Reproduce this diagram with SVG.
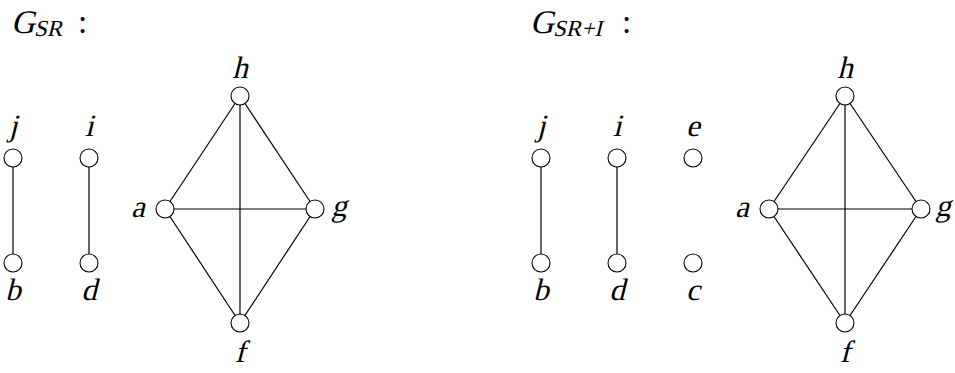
<svg xmlns="http://www.w3.org/2000/svg" width="955" height="373" viewBox="0 0 955 373">
<style>
.e{stroke:#000;stroke-width:1.2;fill:none}
.n{fill:#fff;stroke:#000;stroke-width:1.1}
.l{font-family:'Liberation Serif','Times New Roman',serif;font-size:31px;fill:#000;text-anchor:middle}
.t{font-family:'Liberation Serif','Times New Roman',serif;font-size:33px;fill:#000}
.ts{font-size:23px}
</style>
<rect width="955" height="373" fill="#fff"/>
<text class="t" transform="translate(11,33) skewX(-14)">G<tspan class="ts" dy="3">SR</tspan></text>
<text class="t" x="78" y="33">:</text>
<text class="t" transform="translate(530,33) skewX(-14)">G<tspan class="ts" dy="3">SR</tspan><tspan class="ts">+</tspan><tspan class="ts">I</tspan></text>
<text class="t" x="622" y="33">:</text>
<g id="connectors">
<line class="e" x1="13" y1="158" x2="13" y2="263"/>
<line class="e" x1="89" y1="158" x2="89" y2="263"/>
<line class="e" x1="165" y1="209" x2="240" y2="96"/>
<line class="e" x1="240" y1="96" x2="315" y2="209"/>
<line class="e" x1="165" y1="209" x2="240" y2="323"/>
<line class="e" x1="315" y1="209" x2="240" y2="323"/>
<line class="e" x1="165" y1="209" x2="315" y2="209"/>
<line class="e" x1="240" y1="96" x2="240" y2="323"/>
<line class="e" x1="541" y1="158" x2="541" y2="263"/>
<line class="e" x1="617" y1="158" x2="617" y2="263"/>
<line class="e" x1="769" y1="209" x2="845" y2="96"/>
<line class="e" x1="845" y1="96" x2="921" y2="209"/>
<line class="e" x1="769" y1="209" x2="845" y2="323"/>
<line class="e" x1="921" y1="209" x2="845" y2="323"/>
<line class="e" x1="769" y1="209" x2="921" y2="209"/>
<line class="e" x1="845" y1="96" x2="845" y2="323"/>
</g>
<g id="L_j"><circle class="n" cx="13" cy="158" r="9"/><text class="l" transform="translate(13,136) skewX(-14)">j</text></g>
<g id="L_b"><circle class="n" cx="13" cy="263" r="9"/><text class="l" transform="translate(13,300) skewX(-14)">b</text></g>
<g id="L_i"><circle class="n" cx="89" cy="158" r="9"/><text class="l" transform="translate(89,136) skewX(-14)">i</text></g>
<g id="L_d"><circle class="n" cx="89" cy="263" r="9"/><text class="l" transform="translate(89,300) skewX(-14)">d</text></g>
<g id="L_h"><circle class="n" cx="240" cy="96" r="9"/><text class="l" transform="translate(240,78) skewX(-14)">h</text></g>
<g id="L_a"><circle class="n" cx="165" cy="209" r="9"/><text class="l" transform="translate(138,217) skewX(-14)">a</text></g>
<g id="L_g"><circle class="n" cx="315" cy="209" r="9"/><text class="l" transform="translate(339,216) skewX(-14)">g</text></g>
<g id="L_f"><circle class="n" cx="240" cy="323" r="9"/><text class="l" transform="translate(240,362) skewX(-14)">f</text></g>
<g id="R_j"><circle class="n" cx="541" cy="158" r="9"/><text class="l" transform="translate(541,136) skewX(-14)">j</text></g>
<g id="R_b"><circle class="n" cx="541" cy="263" r="9"/><text class="l" transform="translate(541,300) skewX(-14)">b</text></g>
<g id="R_i"><circle class="n" cx="617" cy="158" r="9"/><text class="l" transform="translate(617,136) skewX(-14)">i</text></g>
<g id="R_d"><circle class="n" cx="617" cy="263" r="9"/><text class="l" transform="translate(617,300) skewX(-14)">d</text></g>
<g id="R_e"><circle class="n" cx="693" cy="158" r="9"/><text class="l" transform="translate(693,136) skewX(-14)">e</text></g>
<g id="R_c"><circle class="n" cx="693" cy="263" r="9"/><text class="l" transform="translate(693,300) skewX(-14)">c</text></g>
<g id="R_h"><circle class="n" cx="845" cy="96" r="9"/><text class="l" transform="translate(845,78) skewX(-14)">h</text></g>
<g id="R_a"><circle class="n" cx="769" cy="209" r="9"/><text class="l" transform="translate(742,217) skewX(-14)">a</text></g>
<g id="R_g"><circle class="n" cx="921" cy="209" r="9"/><text class="l" transform="translate(943,216) skewX(-14)">g</text></g>
<g id="R_f"><circle class="n" cx="845" cy="323" r="9"/><text class="l" transform="translate(845,362) skewX(-14)">f</text></g>
</svg>
